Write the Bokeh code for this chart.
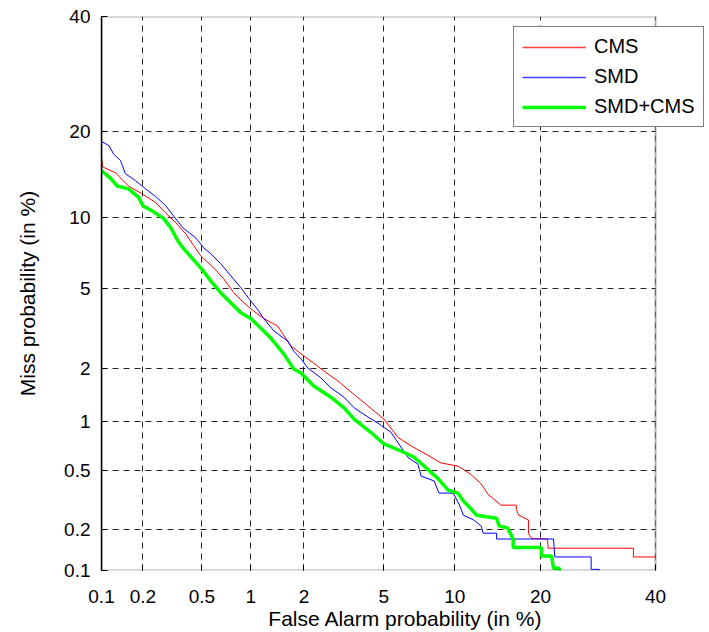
import math
from bokeh.plotting import figure
from bokeh.models import (FixedTicker, CustomJSTickFormatter, Legend, LegendItem,
                          Range1d, BoxAnnotation)
from bokeh.embed import file_html
from bokeh.resources import INLINE

# ---- data (percent) ----
tick_values = [0.1, 0.2, 0.5, 1, 2, 5, 10, 20, 40]
tick_labels = ["0.1", "0.2", "0.5", "1", "2", "5", "10", "20", "40"]

cms_fa = [0.100, 0.102, 0.127, 0.158, 0.196, 0.245, 0.287, 0.336, 0.392, 0.442,
          0.491, 0.595, 0.686, 0.791, 0.91, 1.04, 1.19, 1.43, 1.70, 1.93,
          2.25, 2.55, 3.01, 3.49, 4.22, 5.01, 5.80, 6.62, 7.81, 8.82,
          10.3, 11.5, 12.6, 13.3, 14.8, 16.7, 16.7, 17.0, 18.3, 18.3,
          18.7, 21.0, 21.1, 35.7, 35.7, 40.0]
cms_miss = [16.5, 15.3, 14.6, 13.1, 12.3, 11.4, 10.4, 9.53, 8.60, 7.68,
            6.96, 6.17, 5.52, 4.77, 4.28, 3.91, 3.60, 3.30, 2.62, 2.38,
            2.13, 1.93, 1.70, 1.48, 1.23, 1.03, 0.80, 0.71, 0.62, 0.555,
            0.53, 0.47, 0.406, 0.348, 0.293, 0.293, 0.274, 0.25, 0.232, 0.187,
            0.172, 0.170, 0.146, 0.146, 0.126, 0.126]

smd_fa = [0.100, 0.114, 0.123, 0.138, 0.150, 0.177, 0.209, 0.245, 0.287, 0.326,
          0.375, 0.455, 0.513, 0.569, 0.657, 0.759, 0.873, 1.00, 1.115, 1.19,
          1.365, 1.63, 1.76, 1.93, 2.10, 2.46, 2.77, 3.23, 3.62, 4.22,
          4.70, 5.39, 5.85, 6.42, 7.08, 7.30, 8.27, 8.66, 9.85, 10.4,
          10.8, 11.8, 12.6, 12.8, 14.3, 14.3, 21.9, 22.1, 28.0, 28.0,
          29.4, 29.4]
smd_miss = [18.6, 18.0, 16.9, 16.1, 14.5, 13.7, 12.8, 12.0, 11.1, 10.1,
            9.10, 8.28, 7.53, 7.10, 6.44, 5.69, 5.03, 4.37, 3.91, 3.60,
            3.12, 2.77, 2.46, 2.24, 2.00, 1.77, 1.56, 1.38, 1.20, 1.06,
            0.975, 0.86, 0.73, 0.60, 0.545, 0.457, 0.425, 0.353, 0.353, 0.298,
            0.25, 0.232, 0.21, 0.187, 0.187, 0.170, 0.170, 0.126, 0.126, 0.102,
            0.102, 0.098]

fus_fa = [0.100, 0.117, 0.131, 0.158, 0.187, 0.199, 0.237, 0.278, 0.311, 0.347,
          0.380, 0.491, 0.569, 0.657, 0.759, 0.873, 1.00, 1.31, 1.55, 1.76,
          1.93, 2.25, 2.77, 3.23, 3.62, 4.35, 5.01, 5.97, 6.81, 7.52,
          8.59, 9.42, 10.3, 10.8, 11.5, 12.1, 14.3, 14.6, 15.6, 16.3,
          16.3, 20.1, 20.1, 21.6, 21.9, 22.8, 22.8]
fus_miss = [14.85, 13.95, 13.1, 12.8, 11.9, 11.1, 10.5, 9.90, 9.10, 8.05,
            7.46, 6.17, 5.40, 4.77, 4.28, 3.83, 3.60, 2.87, 2.38, 1.98,
            1.88, 1.60, 1.38, 1.20, 1.03, 0.86, 0.73, 0.66, 0.605, 0.53,
            0.44, 0.37, 0.353, 0.312, 0.279, 0.25, 0.238, 0.21, 0.204, 0.170,
            0.148, 0.148, 0.128, 0.128, 0.104, 0.104, 0.098]


def probit(pct):
    """Normal deviate of a probability given in percent (DET axis scale)."""
    p = pct / 100.0
    lo, hi = -10.0, 10.0
    for _ in range(80):
        mid = 0.5 * (lo + hi)
        if 0.5 * math.erfc(-mid / math.sqrt(2.0)) < p:
            lo = mid
        else:
            hi = mid
    return 0.5 * (lo + hi)


def dev(values):
    return [probit(v) for v in values]


FONT = "Liberation Sans"
NAN = float("nan")

AX_W = 554          # pixel width of the DET axes box
FRAME_W = 608       # frame extends right so the legend may overflow the box
z_lo = probit(tick_values[0])
z_hi = probit(tick_values[-1])
x_end = z_lo + (z_hi - z_lo) * FRAME_W / AX_W

p = figure(frame_width=FRAME_W, frame_height=554,
           x_range=Range1d(z_lo, x_end),
           y_range=Range1d(z_lo, z_hi),
           output_backend="svg", toolbar_location=None,
           min_border_left=101, min_border_right=0,
           min_border_top=16, min_border_bottom=62,
           background_fill_color="white", border_fill_color="white")

tick_dev = dev(tick_values)
ticker = FixedTicker(ticks=tick_dev)
formatter = CustomJSTickFormatter(args=dict(zs=tick_dev, labels=tick_labels), code="""
let best = 0, bd = 1e9;
for (let i = 0; i < zs.length; i++) {
  const d = Math.abs(zs[i] - tick);
  if (d < bd) { bd = d; best = i; }
}
return labels[best];
""")

for ax in (p.xaxis, p.yaxis):
    ax.ticker = ticker
    ax.formatter = formatter
    ax.major_tick_in = 6
    ax.major_tick_out = 0
    ax.minor_tick_in = 0
    ax.minor_tick_out = 0
    ax.axis_line_color = "black"
    ax.axis_line_width = 1.5
    ax.major_tick_line_color = "black"
    ax.major_label_text_font = FONT
    ax.major_label_text_font_size = "19px"
    ax.major_label_text_color = "black"
    ax.axis_label_text_font = FONT
    ax.axis_label_text_font_size = "21px"
    ax.axis_label_text_font_style = "normal"
    ax.axis_label_text_color = "black"

p.xaxis.axis_line_color = None
p.xaxis.axis_label = "False Alarm probability (in %)"
p.yaxis.axis_label = "Miss probability (in %)"
p.xaxis.major_label_standoff = 19
p.xaxis.axis_label_standoff = 1
p.yaxis.major_label_standoff = 11
p.yaxis.axis_label_standoff = 22

for g in (p.xgrid, p.ygrid):
    g.ticker = ticker
    g.grid_line_color = "black"
    g.grid_line_alpha = 0.85
    g.grid_line_width = 1
    g.grid_line_dash = "6 5"

p.outline_line_color = None

r_cms = p.line(dev(cms_fa), dev(cms_miss), line_color="#ff0000", line_width=1.0)
r_smd = p.line(dev(smd_fa), dev(smd_miss), line_color="#0000ff", line_width=1.0)
r_fus = p.line(dev(fus_fa), dev(fus_miss), line_color="#00ff00", line_width=3.5)

# legend keys (thin keys render too dark, so use slightly wider proxies)
k_cms = p.line([NAN], [NAN], line_color="#ff0000", line_width=1.6, line_alpha=0.75)
k_smd = p.line([NAN], [NAN], line_color="#0000ff", line_width=1.6, line_alpha=0.75)

# blank area right of the axes box (only the legend overflows into it)
p.add_layout(BoxAnnotation(left=z_hi, fill_color="white", fill_alpha=1,
                           line_color=None, level="underlay"))
# the axes box
p.add_layout(BoxAnnotation(left=z_lo, right=z_hi, bottom=z_lo, top=z_hi,
                           fill_alpha=0, line_color="black", line_width=2,
                           level="overlay"))

legend = Legend(items=[LegendItem(label="CMS", renderers=[k_cms]),
                       LegendItem(label="SMD", renderers=[k_smd]),
                       LegendItem(label="SMD+CMS", renderers=[r_fus])],
                location=(412, 443))
legend.label_text_font = FONT
legend.label_text_font_size = "20px"
legend.label_text_color = "black"
legend.glyph_width = 64
legend.glyph_height = 20
legend.label_height = 20
legend.label_standoff = 8
legend.spacing = 7
legend.padding = 8
legend.margin = 0
legend.border_line_color = "black"
legend.border_line_width = 1
legend.background_fill_color = "white"
legend.background_fill_alpha = 1
legend.level = "overlay"
p.add_layout(legend)

open("out.html", "w").write(file_html(p, INLINE))
